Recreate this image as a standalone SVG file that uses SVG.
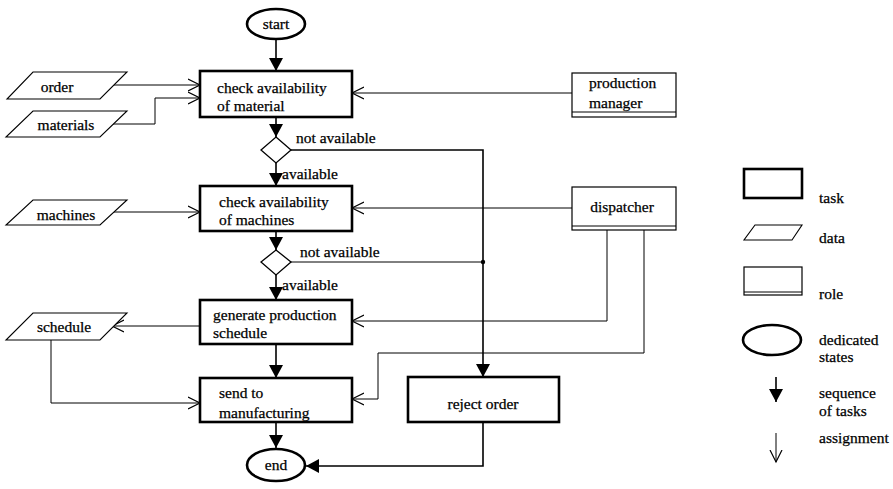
<svg xmlns="http://www.w3.org/2000/svg" width="893" height="489" viewBox="0 0 893 489" font-family="'Liberation Serif', 'Times New Roman', 'DejaVu Serif', serif" font-size="15.5">
<defs>
<style>
text{fill:#000;stroke:#000;stroke-width:0.25}
.task{fill:#fff;stroke:#000;stroke-width:2.6}
.data{fill:#fff;stroke:#000;stroke-width:1.1}
.role{fill:#fff;stroke:#000;stroke-width:1.2}
.state{fill:#fff;stroke:#000;stroke-width:2.6}
.dec{fill:#fff;stroke:#000;stroke-width:1.3}
.seq{fill:none;stroke:#000;stroke-width:1.6;marker-end:url(#fill)}
.asg{fill:none;stroke:#000;stroke-width:1;marker-end:url(#open)}
.ln{fill:none;stroke:#000;stroke-width:1}
</style>
<marker id="fill" markerUnits="userSpaceOnUse" markerWidth="16" markerHeight="16" refX="13" refY="7" orient="auto">
<path d="M0,0 L13,7 L0,14 Z" fill="#000"/>
</marker>
<marker id="open" markerUnits="userSpaceOnUse" markerWidth="16" markerHeight="16" refX="12" refY="7" orient="auto">
<path d="M0,1 L12,7 L0,13" fill="none" stroke="#000" stroke-width="1.2"/>
</marker>
</defs>

<g id="connectors">
<path class="seq" d="M276,39 V71"/>
<path class="seq" d="M276,117 V137"/>
<path class="seq" d="M276,163 V186"/>
<path class="seq" d="M276,231 V250"/>
<path class="seq" d="M276,275 V300"/>
<path class="seq" d="M276,344 V378"/>
<path class="seq" d="M276,422 V448"/>
<path class="seq" d="M291,150 H483 V377"/>
<path class="ln" d="M291,262 H483"/>
<circle cx="483" cy="262" r="2.2" fill="#000"/>
<path class="seq" d="M483,422 V466 H306"/>
<path class="asg" d="M113,85 H200"/>
<path class="asg" d="M113,124 H155 V98 H200"/>
<path class="asg" d="M572,93 H352"/>
<path class="asg" d="M113,212 H200"/>
<path class="asg" d="M572,208 H352"/>
<path class="asg" d="M607,230 V321 H352"/>
<path class="asg" d="M644,230 V353 H378 V399 H352"/>
<path class="asg" d="M200,326 H112"/>
<path class="asg" d="M51,340 V403 H200"/>
</g>

<g id="start">
<ellipse class="state" cx="276" cy="24" rx="29" ry="15"/>
<text x="276" y="29" text-anchor="middle">start</text>
</g>

<g id="task-material">
<rect class="task" x="200" y="71" width="152" height="46"/>
<text x="217" y="93">check availability</text>
<text x="217" y="111">of material</text>
</g>

<g id="data-order">
<polygon class="data" points="33,72 127,72 100,99 7,99"/>
<text x="57" y="92" text-anchor="middle">order</text>
</g>

<g id="data-materials">
<polygon class="data" points="33,111 127,111 100,137 6,137"/>
<text x="66" y="130" text-anchor="middle">materials</text>
</g>

<g id="role-production-manager">
<rect class="role" x="572" y="73" width="104" height="44"/>
<line class="ln" x1="572" y1="112" x2="676" y2="112"/>
<text x="589" y="88">production</text>
<text x="589" y="108">manager</text>
</g>

<g id="decision-1">
<polygon class="dec" points="276,137 291,150 276,163 261,150"/>
<text x="296" y="143">not available</text>
<text x="282" y="179">available</text>
</g>

<g id="task-machines">
<rect class="task" x="200" y="186" width="152" height="45"/>
<text x="219" y="207">check availability</text>
<text x="219" y="225">of machines</text>
</g>

<g id="data-machines">
<polygon class="data" points="33,200 127,200 100,225 6,225"/>
<text x="66" y="220" text-anchor="middle">machines</text>
</g>

<g id="role-dispatcher">
<rect class="role" x="572" y="187" width="104" height="43"/>
<line class="ln" x1="572" y1="226" x2="676" y2="226"/>
<text x="622" y="212" text-anchor="middle">dispatcher</text>
</g>

<g id="decision-2">
<polygon class="dec" points="276,250 291,262 276,275 261,262"/>
<text x="300" y="257">not available</text>
<text x="282" y="290">available</text>
</g>

<g id="task-schedule">
<rect class="task" x="200" y="300" width="152" height="44"/>
<text x="213" y="320">generate production</text>
<text x="213" y="338">schedule</text>
</g>

<g id="data-schedule">
<polygon class="data" points="33,313 127,313 100,340 6,340"/>
<text x="64" y="332" text-anchor="middle">schedule</text>
</g>

<g id="task-send">
<rect class="task" x="200" y="378" width="152" height="44"/>
<text x="219" y="398">send to</text>
<text x="219" y="418">manufacturing</text>
</g>

<g id="task-reject">
<rect class="task" x="408" y="377" width="151" height="45"/>
<text x="483" y="409" text-anchor="middle">reject order</text>
</g>

<g id="end">
<ellipse class="state" cx="276" cy="465" rx="29" ry="16"/>
<text x="276" y="470" text-anchor="middle">end</text>
</g>

<g id="legend">
<rect class="task" x="744" y="169" width="58" height="29"/>
<text x="819" y="203">task</text>
<polygon class="data" points="755,225 802,225 792,240 744,240"/>
<text x="819" y="243">data</text>
<rect class="role" x="744" y="267" width="58" height="28"/>
<line class="ln" x1="744" y1="292" x2="802" y2="292"/>
<text x="819" y="299">role</text>
<ellipse class="state" cx="772" cy="340" rx="29" ry="15"/>
<text x="819" y="345">dedicated</text>
<text x="819" y="362">states</text>
<path class="seq" d="M776,377 V402"/>
<text x="819" y="398">sequence</text>
<text x="819" y="416">of tasks</text>
<path class="asg" d="M776,433 V462"/>
<text x="819" y="443">assignment</text>
</g>
</svg>
